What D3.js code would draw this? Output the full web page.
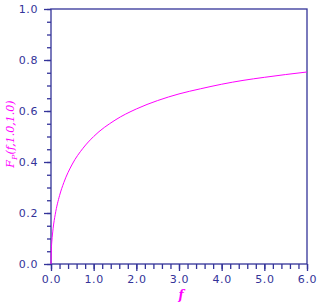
<!DOCTYPE html>
<html>
<head>
<meta charset="utf-8">
<script src="https://cdn.jsdelivr.net/npm/d3@7"></script>
<style>
  body { margin: 0; background: #fff; }
  text { font-family: "DejaVu Sans", sans-serif; }
</style>
</head>
<body>
<div id="chart"></div>
<script>
// values
const fValues = [0, 0.01, 0.02, 0.05, 0.1, 0.2, 0.3, 0.5, 0.75, 1.0, 1.5, 2.0, 2.5, 3.0, 3.5, 4.0, 4.5, 5.0, 5.5, 6.0];
const cdfValues = [0, 0.064, 0.089, 0.140, 0.195, 0.268, 0.319, 0.392, 0.454, 0.500, 0.564, 0.608, 0.641, 0.667, 0.687, 0.705, 0.720, 0.732, 0.743, 0.753];
const xTicks = [0, 1, 2, 3, 4, 5, 6];
const yTicks = [0, 0.2, 0.4, 0.6, 0.8, 1.0];

let width = 321, height = 304,
  margin = {top: 9, right: 14, bottom: 40, left: 51},
  w = width - margin.left - margin.right,
  h = height - margin.top - margin.bottom;

const axisColor = '#333399', curveColor = '#ff00ff';

let svg = d3.select('#chart').append('svg')
  .attr('width', width)
  .attr('height', height);

let x = d3.scaleLinear().domain([0, 6]).range([0, w]),
  y = d3.scaleLinear().domain([0, 1]).range([h, 0]);

let g = svg.append('g')
  .attr('transform', 'translate(' + margin.left + ',' + margin.top + ')');

// minor ticks first, then major axes on top
g.append('g')
  .attr('transform', 'translate(0,' + h + ')')
  .call(d3.axisBottom(x).ticks(30).tickSize(5).tickFormat(''));
g.append('g')
  .call(d3.axisLeft(y).ticks(20).tickSize(4).tickFormat(''));

let xAxis = g.append('g')
  .attr('transform', 'translate(0,' + h + ')')
  .call(d3.axisBottom(x).tickValues(xTicks).tickSize(7).tickPadding(4).tickFormat(d3.format('.1f')));
let yAxis = g.append('g')
  .call(d3.axisLeft(y).tickValues(yTicks).tickSize(7).tickPadding(6).tickFormat(d3.format('.1f')));

g.selectAll('.domain').remove();
g.selectAll('.tick line').attr('stroke', axisColor).attr('stroke-width', 1.3);
g.selectAll('.tick text')
  .attr('fill', axisColor)
  .style('font-size', '11px')
  .style('letter-spacing', '0.6px');
yAxis.selectAll('.tick text').attr('dy', '0.35em');

// frame
g.append('rect')
  .attr('width', w).attr('height', h)
  .attr('fill', 'none')
  .attr('stroke', axisColor)
  .attr('stroke-width', 1.3);

let data = fValues.map((f, i) => ({f: f, p: cdfValues[i]}));
g.append('path')
  .datum(data)
  .attr('fill', 'none')
  .attr('stroke', curveColor)
  .attr('stroke-width', 1)
  .attr('d', d3.line().x((d) => x(d.f)).y((d) => y(d.p)).curve(d3.curveMonotoneX));

// axis titles
svg.append('text')
  .attr('x', margin.left + x(3) + 2)
  .attr('y', 299)
  .attr('text-anchor', 'middle')
  .attr('fill', curveColor)
  .style('font-family', '"DejaVu Serif", serif')
  .style('font-style', 'italic')
  .style('font-weight', 'bold')
  .style('font-size', '12px')
  .text('f');

let yl = svg.append('text')
  .attr('transform', 'translate(14,' + 134 + ') rotate(-90)')
  .attr('text-anchor', 'middle')
  .attr('fill', curveColor)
  .style('font-family', '"DejaVu Serif", serif')
  .style('font-style', 'italic')
  .style('font-size', '11px');
yl.append('tspan').text('F');
yl.append('tspan').attr('dy', 3).style('font-size', '8px').text('P');
yl.append('tspan').attr('dy', -3).text('(f,1.0,1.0)');
</script>
</body>
</html>
